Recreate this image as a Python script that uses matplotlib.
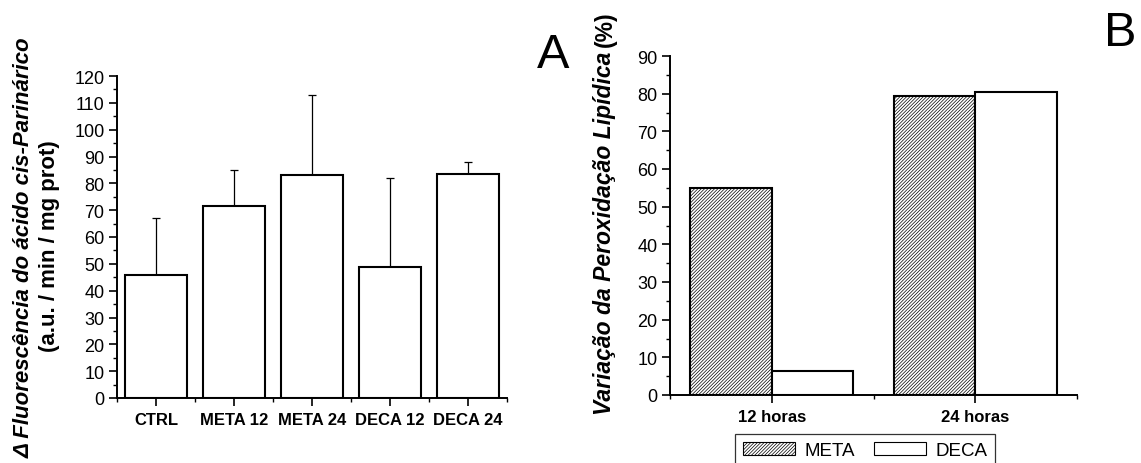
import matplotlib

matplotlib.use("Agg")
import matplotlib.pyplot as plt
import numpy as np
from matplotlib.patches import Patch
from matplotlib.ticker import MultipleLocator, FixedLocator

plt.rcParams["font.family"] = ["Liberation Sans", "DejaVu Sans"]
plt.rcParams["hatch.linewidth"] = 0.5

# panel A data
groups_a = ["CTRL", "META 12", "META 24", "DECA 12", "DECA 24"]
means_a = [46, 71.5, 83, 49, 83.5]
err_a = [21, 13.5, 30, 33, 4.5]

# panel B data
times_b = ["12 horas", "24 horas"]
meta_b = [55, 79.5]
deca_b = [6.5, 80.5]

W, H = 1141, 464
HATCH = "/" * 10
fig = plt.figure(figsize=(W / 100, H / 100), dpi=100)


def style(ax):
    for s in ("top", "right"):
        ax.spines[s].set_visible(False)
    for s in ("left", "bottom"):
        ax.spines[s].set_linewidth(1.4)
    ax.tick_params(which="major", direction="out", length=6, width=1.2, labelsize=13, pad=3)
    ax.tick_params(which="minor", direction="out", length=3, width=1.0)
    ax.tick_params(axis="x", which="major", pad=4, labelsize=12)


# ---- panel A
axA = fig.add_axes([117 / W, 1 - 399 / H, 390 / W, 322 / H])
x = np.arange(len(groups_a))
axA.bar(x, means_a, width=0.8, color="white", edgecolor="black", linewidth=1.5, zorder=3)
axA.errorbar(x, means_a, yerr=[np.zeros(len(err_a)), err_a], fmt="none",
             ecolor="black", elinewidth=0.9, capsize=3, capthick=0.9, zorder=2)
axA.set_xlim(-0.5, 4.5)
axA.set_ylim(0, 120)
axA.yaxis.set_major_locator(MultipleLocator(10))
axA.yaxis.set_minor_locator(MultipleLocator(5))
axA.set_xticks(x)
axA.set_xticklabels(groups_a, fontweight="bold")
axA.xaxis.set_minor_locator(FixedLocator(np.arange(-0.5, 5, 1.0)))
style(axA)

fig.text(24 / W, 1 - 248 / H, "Δ Fluorescência do ácido cis-Parinárico", rotation=90,
         ha="center", va="center", fontsize=16, fontweight="bold", style="italic")
fig.text(50 / W, 1 - 246 / H, "(a.u. / min / mg prot)", rotation=90,
         ha="center", va="center", fontsize=16, fontweight="bold")
fig.text(553 / W, 1 - 56 / H, "A", ha="center", va="center", fontsize=35)

# ---- panel B
axB = fig.add_axes([670 / W, 1 - 396 / H, 407 / W, 339 / H])
xb = np.arange(len(times_b))
bw = 0.4
axB.bar(xb - bw / 2, meta_b, width=bw, color="white", edgecolor="black",
        hatch=HATCH, linewidth=1.5, zorder=3, label="META")
axB.bar(xb + bw / 2, deca_b, width=bw, color="white", edgecolor="black",
        linewidth=1.5, zorder=3, label="DECA")
axB.set_xlim(-0.5, 1.5)
axB.set_ylim(0, 90)
axB.yaxis.set_major_locator(MultipleLocator(10))
axB.yaxis.set_minor_locator(MultipleLocator(5))
axB.set_xticks(xb)
axB.set_xticklabels(times_b, fontweight="bold")
axB.xaxis.set_minor_locator(FixedLocator([-0.5, 0.5, 1.5]))
style(axB)

t1 = fig.text(605 / W, 1 - 415 / H, "Variação da Peroxidação Lipídica", rotation=90,
              ha="center", va="bottom", fontsize=16.5, fontweight="bold", style="italic")
fig.canvas.draw()
bb = t1.get_window_extent()
fig.text(605 / W, (bb.y1 + 5) / H, "(%)", rotation=90,
         ha="center", va="bottom", fontsize=16.5, fontweight="bold")
fig.text(1120 / W, 1 - 34 / H, "B", ha="center", va="center", fontsize=35)

handles = [Patch(facecolor="white", edgecolor="black", hatch=HATCH, linewidth=0.8),
           Patch(facecolor="white", edgecolor="black", linewidth=0.8)]
leg = fig.legend(handles, ["META", "DECA"], loc="upper center",
                 bbox_to_anchor=(865 / W, 1 - 435 / H), ncol=2, frameon=True,
                 fancybox=False, edgecolor="black", fontsize=13.5, handlelength=2.8,
                 handleheight=0.7, columnspacing=1.0, handletextpad=0.5,
                 borderpad=0.4, borderaxespad=0)
leg.get_frame().set_linewidth(0.9)

fig.savefig("out.png", dpi=100)
